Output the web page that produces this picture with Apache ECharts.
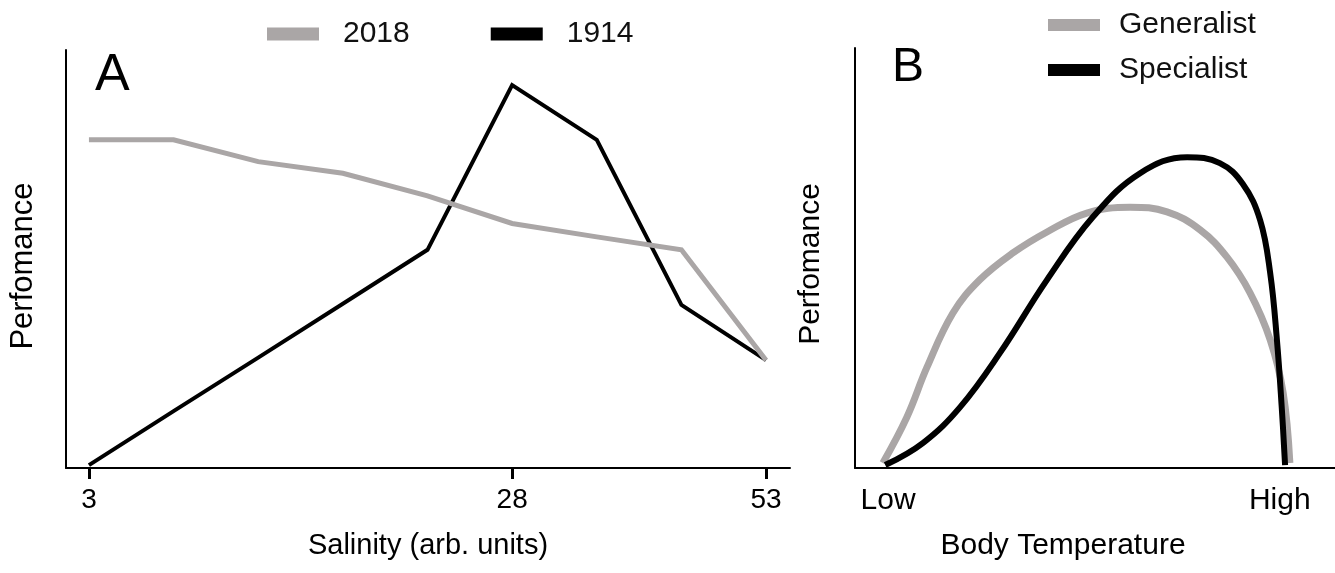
<!DOCTYPE html>
<html>
<head>
<meta charset="utf-8">
<script src="https://cdn.jsdelivr.net/npm/echarts@6/dist/echarts.min.js"></script>
<style>
html,body{margin:0;padding:0;background:#fff;}
#chart{width:1335px;height:573px;}
</style>
</head>
<body>
<div id="chart"></div>
<script>
// Panel A: salinity categories (index positions), tick labels shown only at some
const salinityTickLabels = ['3', '', '', '', '', '28', '', '', '53'];
const perf1914 = [0.7, 13.6, 26.4, 39.3, 52.2, 91.6, 78.5, 39.0, 25.8];
const perf2018 = [78.5, 78.5, 73.3, 70.5, 65.1, 58.5, 55.3, 52.2, 25.8];

// Panel B: body temperature (0-100 arbitrary) vs performance
const genTemp = [5.8, 10.8, 15.0, 20.4, 26.0, 32.9, 40.0, 48.3, 57.3, 65.0, 71.9, 77.5, 82.3, 86.5, 89.2, 90.6];
const genPerf = [1.2, 12.1, 24.0, 36.9, 44.8, 51.2, 56.2, 60.7, 62.1, 61.0, 56.7, 50.2, 41.7, 30.5, 17.9, 1.2];
const specTemp = [6.3, 14.2, 21.9, 30.2, 40.0, 49.6, 59.4, 69.2, 76.0, 80.8, 84.4, 86.5, 87.9, 88.9, 89.6];
const specPerf = [0.7, 6.0, 14.5, 27.4, 44.8, 59.8, 70.2, 74.0, 72.6, 67.6, 59.0, 46.4, 30.5, 14.5, 0.7];
const tempTickValues = [6.9, 88.5];
const tempTickLabels = ['Low', 'High'];

const FONT = 'Liberation Sans, Arial, sans-serif';
const GREY = '#aaa6a6';
const BLACK = '#000000';

const zip = (xs, ys) => xs.map((x, i) => [x, ys[i]]);
const salIdx = salinityTickLabels.map((_, i) => i);
const salTickIdx = salIdx.filter(i => salinityTickLabels[i] !== '');

const chart = echarts.init(document.getElementById('chart'), null, {renderer: 'canvas'});

const axisLine = {show: true, onZero: false, lineStyle: {color: '#000', width: 2}};

chart.setOption({
  backgroundColor: '#fff',
  animation: false,
  title: [
    {text: 'A', left: 95, top: 50, padding: 0, textStyle: {fontFamily: FONT, fontSize: 52, fontWeight: 'normal', color: '#000'}},
    {text: 'B', left: 892, top: 44, padding: 0, textStyle: {fontFamily: FONT, fontSize: 48, fontWeight: 'normal', color: '#000'}}
  ],
  legend: [
    {
      data: ['2018', '1914'], left: 262, top: 14, icon: 'rect', itemWidth: 52, itemHeight: 13, itemGap: 81,
      textStyle: {fontFamily: FONT, fontSize: 30, color: '#111', padding: [0, 0, 0, 19]}
    },
    {
      data: ['Generalist', 'Specialist'], left: 1043, top: 5, orient: 'vertical', icon: 'rect', itemWidth: 52, itemHeight: 12, itemGap: 15,
      textStyle: {fontFamily: FONT, fontSize: 30, color: '#111', padding: [0, 0, 0, 14]}
    }
  ],
  grid: [
    {left: 63, right: 545, top: 50, bottom: 105},
    {left: 855, right: 0, top: 48, bottom: 105}
  ],
  xAxis: [
    {
      gridIndex: 0, type: 'value', min: -0.271, max: 8.283,
      axisLine: axisLine,
      axisTick: {show: true, length: 11, lineStyle: {color: '#000', width: 3}, customValues: salTickIdx},
      axisLabel: {show: true, customValues: salTickIdx, formatter: v => salinityTickLabels[Math.round(v)], fontFamily: FONT, fontSize: 28, color: '#000', margin: 18},
      splitLine: {show: false},
      name: 'Salinity (arb. units)', nameLocation: 'middle', nameGap: 63,
      nameTextStyle: {fontFamily: FONT, fontSize: 29, color: '#000'}
    },
    {
      gridIndex: 1, type: 'value', min: 0, max: 100,
      axisLine: axisLine,
      axisTick: {show: false},
      axisLabel: {show: true, customValues: tempTickValues, formatter: v => tempTickLabels[tempTickValues.indexOf(v)], fontFamily: FONT, fontSize: 30, color: '#000', margin: 18},
      splitLine: {show: false},
      name: 'Body Temperature', nameLocation: 'middle', nameGap: 63,
      nameTextStyle: {fontFamily: FONT, fontSize: 30, color: '#000', padding: [0, 64, 0, 0]}
    }
  ],
  yAxis: [
    {
      gridIndex: 0, type: 'value', min: 0, max: 100,
      axisLine: axisLine, axisTick: {show: false}, axisLabel: {show: false}, splitLine: {show: false},
      name: 'Perfomance', nameLocation: 'middle', nameGap: 27,
      nameTextStyle: {fontFamily: FONT, fontSize: 31, color: '#000', padding: [0, 14, 0, 0]}
    },
    {
      gridIndex: 1, type: 'value', min: 0, max: 100,
      axisLine: axisLine, axisTick: {show: false}, axisLabel: {show: false}, splitLine: {show: false},
      name: 'Perfomance', nameLocation: 'middle', nameGap: 29,
      nameTextStyle: {fontFamily: FONT, fontSize: 30, color: '#000', padding: [0, 12, 0, 0]}
    }
  ],
  series: [
    {
      name: '1914', type: 'line', xAxisIndex: 0, yAxisIndex: 0, symbol: 'none', color: BLACK,
      lineStyle: {color: BLACK, width: 4, join: 'miter'}, data: zip(salIdx, perf1914)
    },
    {
      name: '2018', type: 'line', xAxisIndex: 0, yAxisIndex: 0, symbol: 'none', color: GREY,
      lineStyle: {color: GREY, width: 5, join: 'miter'}, data: zip(salIdx, perf2018)
    },
    {
      name: 'Generalist', type: 'line', xAxisIndex: 1, yAxisIndex: 1, symbol: 'none', color: GREY, smooth: 0.4,
      lineStyle: {color: GREY, width: 7}, data: zip(genTemp, genPerf)
    },
    {
      name: 'Specialist', type: 'line', xAxisIndex: 1, yAxisIndex: 1, symbol: 'none', color: BLACK, smooth: 0.4,
      lineStyle: {color: BLACK, width: 6}, data: zip(specTemp, specPerf)
    }
  ]
});
</script>
</body>
</html>
